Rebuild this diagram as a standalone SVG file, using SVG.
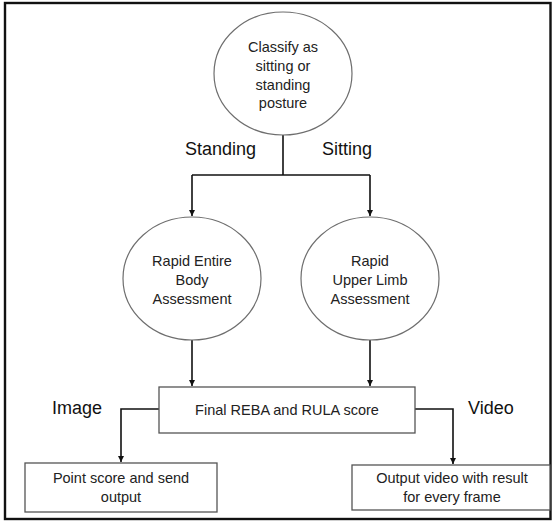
<svg xmlns="http://www.w3.org/2000/svg" width="552" height="522" viewBox="0 0 552 522">
<defs>
<style>
.node{fill:#fff;stroke:#6e6e6e;stroke-width:1.2}
.box{fill:#fff;stroke:#555;stroke-width:1.3}
.t{font-family:"Liberation Sans",Arial,sans-serif;font-size:14.5px;fill:#222;text-anchor:middle}
.lbl{font-family:"Liberation Sans",Arial,sans-serif;font-size:18px;fill:#111}
.c{fill:none;stroke:#111;stroke-width:1.6}
</style>
<marker id="ah" viewBox="0 0 10 10" refX="10" refY="5" markerWidth="6" markerHeight="6" markerUnits="userSpaceOnUse" orient="auto">
<path d="M0,0 L10,5 L0,10 z" fill="#111"/>
</marker>
</defs>
<rect x="0" y="0" width="552" height="522" fill="#fff"/>
<rect id="frame" x="5" y="3" width="545.5" height="516" fill="none" stroke="#111" stroke-width="2.4"/>
<g id="connectors">
<path class="c" d="M283,135 V175"/>
<path class="c" d="M192,175 H370"/>
<path class="c" d="M192,175 V216" marker-end="url(#ah)"/>
<path class="c" d="M370,175 V216" marker-end="url(#ah)"/>
<path class="c" d="M192,340 V386" marker-end="url(#ah)"/>
<path class="c" d="M370,340 V386" marker-end="url(#ah)"/>
<path class="c" d="M159,409 H121 V462" marker-end="url(#ah)"/>
<path class="c" d="M415,409 H453 V464" marker-end="url(#ah)"/>
</g>
<g id="classify">
<ellipse class="node" cx="283" cy="73.5" rx="69" ry="61.5"/>
<text class="t" x="283" y="52">Classify as</text>
<text class="t" x="283" y="71">sitting or</text>
<text class="t" x="283" y="90">standing</text>
<text class="t" x="283" y="108">posture</text>
</g>
<g id="lbl-standing"><text class="lbl" x="185" y="155">Standing</text></g>
<g id="lbl-sitting"><text class="lbl" x="322" y="155">Sitting</text></g>
<g id="reba">
<ellipse class="node" cx="192" cy="278.5" rx="69" ry="61.5"/>
<text class="t" x="192" y="266">Rapid Entire</text>
<text class="t" x="192" y="285">Body</text>
<text class="t" x="192" y="304">Assessment</text>
</g>
<g id="rula">
<ellipse class="node" cx="370" cy="278.5" rx="69" ry="61.5"/>
<text class="t" x="370" y="266">Rapid</text>
<text class="t" x="370" y="285">Upper Limb</text>
<text class="t" x="370" y="304">Assessment</text>
</g>
<g id="final">
<rect class="box" x="159" y="387" width="256" height="46"/>
<text class="t" x="287" y="415">Final REBA and RULA score</text>
</g>
<g id="lbl-image"><text class="lbl" x="52" y="414">Image</text></g>
<g id="lbl-video"><text class="lbl" x="468" y="414">Video</text></g>
<g id="point">
<rect class="box" x="25" y="463" width="192" height="49"/>
<text class="t" x="121" y="483">Point score and send</text>
<text class="t" x="121" y="502">output</text>
</g>
<g id="outvideo">
<rect class="box" x="352" y="465" width="198" height="45"/>
<text class="t" x="452" y="483">Output video with result</text>
<text class="t" x="452" y="502">for every frame</text>
</g>
</svg>
